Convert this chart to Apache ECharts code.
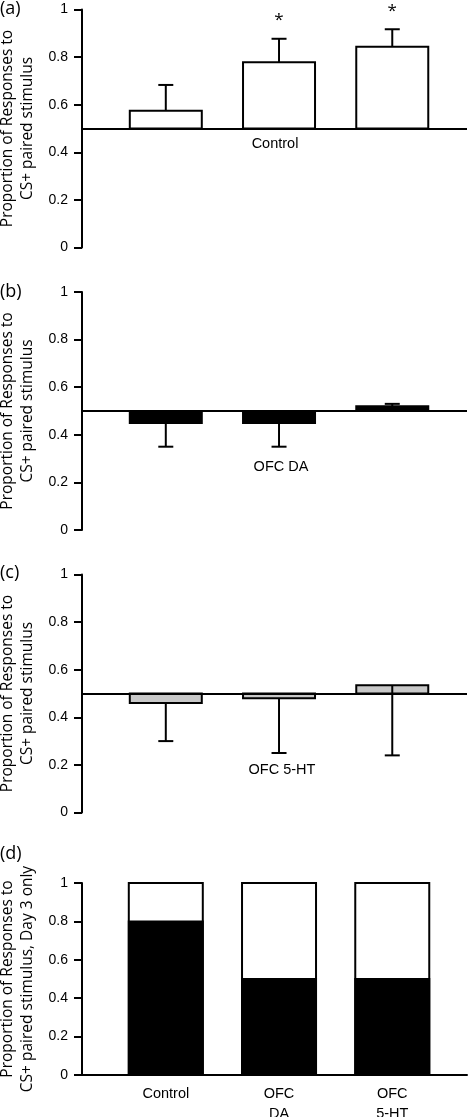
<!DOCTYPE html>
<html>
<head>
<meta charset="utf-8">
<script src="https://cdn.jsdelivr.net/npm/echarts@6/dist/echarts.min.js"></script>
<style>
html,body{margin:0;padding:0;background:#fff;}
#chart{width:470px;height:1117px;}
</style>
</head>
<body>
<div id="chart"></div>
<script>
// ---- data ----
const positions = [1, 2, 3];
const panelLabels = ['(a)', '(b)', '(c)', '(d)'];
const groupLabels = ['Control', 'OFC DA', 'OFC 5-HT'];
const baseline = 0.5;

const controlMeans = [0.575, 0.778, 0.843];
const controlErrEnds = [0.683, 0.877, 0.917];
const controlSig = ['', '*', '*'];

const daMeans = [0.45, 0.45, 0.52];
const daErrEnds = [0.35, 0.35, 0.53];

const htMeans = [0.46, 0.48, 0.535];
const htErrEnds = [0.30, 0.25, 0.24];

const day3CSplus = [0.8, 0.5, 0.5];
const day3Other = [0.2, 0.5, 0.5];
const day3Categories = ['Control', 'OFC\nDA', 'OFC\n5-HT'];

const yMin = 0, yMax = 1, yInterval = 0.2;
const yName = 'Proportion of Responses to\nCS+ paired stimulus';
const yNameD = 'Proportion of Responses to\nCS+ paired stimulus, Day 3 only';

// ---- layout / style ----
const LEFT = 82, RIGHT = 3;
const gridBase = {left: LEFT, right: RIGHT, containLabel: false, outerBoundsMode: 'none'};
const grids = [
  Object.assign({top: 9.5, height: 238}, gridBase),
  Object.assign({top: 292, height: 238}, gridBase),
  Object.assign({top: 574.5, height: 238}, gridBase),
  Object.assign({top: 883, height: 192}, gridBase)
];
const X_MIN = 0.26, X_MAX = 3.66;
const BAR_W = 72;
const tickFont = 'Liberation Sans, Arial, sans-serif';
const nameFont = 'Open Sans, sans-serif';

function yAxisFor(i, name) {
  return {
    type: 'value', gridIndex: i, min: yMin, max: yMax, interval: yInterval,
    axisLine: {show: true, lineStyle: {color: '#000', width: 2}},
    axisTick: {show: true, inside: false, length: 8, lineStyle: {color: '#000', width: 2}},
    axisLabel: {color: '#000', fontSize: 14, fontFamily: tickFont, margin: 14},
    splitLine: {show: false},
    name: name, nameLocation: 'middle', nameGap: 43, nameRotate: 90,
    nameTextStyle: {color: '#000', fontSize: 15.5, lineHeight: 20, fontFamily: nameFont}
  };
}

function barSeries(i, means, fill) {
  return {
    type: 'custom', xAxisIndex: i, yAxisIndex: i, z: 2,
    data: positions.map((p, k) => [p, means[k]]),
    encode: {x: 0, y: 1},
    renderItem: function (params, api) {
      const x = api.value(0), v = api.value(1);
      const p0 = api.coord([x, baseline]);
      const p1 = api.coord([x, v]);
      return {
        type: 'rect',
        shape: {x: p0[0] - BAR_W / 2, y: Math.min(p0[1], p1[1]), width: BAR_W, height: Math.abs(p1[1] - p0[1])},
        style: {fill: fill, stroke: '#000', lineWidth: 2}
      };
    },
    markLine: {
      silent: true, symbol: 'none', label: {show: false},
      lineStyle: {color: '#000', width: 2, type: 'solid'},
      data: [{yAxis: baseline}]
    }
  };
}

function errSeries(i, means, ends, sig) {
  return {
    type: 'custom', xAxisIndex: i, yAxisIndex: i, z: 5,
    data: positions.map((p, k) => [p, means[k], ends[k], k]),
    encode: {x: 0, y: [1, 2]},
    renderItem: function (params, api) {
      const x = api.value(0), m = api.value(1), e = api.value(2), k = api.value(3);
      const pm = api.coord([x, m]);
      const pe = api.coord([x, e]);
      const children = [
        {type: 'line', shape: {x1: pm[0], y1: pm[1], x2: pe[0], y2: pe[1]}, style: {stroke: '#000', lineWidth: 2}},
        {type: 'line', shape: {x1: pe[0] - 7.5, y1: pe[1], x2: pe[0] + 7.5, y2: pe[1]}, style: {stroke: '#000', lineWidth: 2}}
      ];
      if (sig && sig[k]) {
        children.push({
          type: 'text',
          style: {text: sig[k], x: pe[0], y: pe[1] - 10, align: 'center', verticalAlign: 'bottom',
                  fill: '#000', fontSize: 17, fontFamily: nameFont}
        });
      }
      return {type: 'group', children: children};
    }
  };
}

const day3Series = {
  type: 'custom', xAxisIndex: 3, yAxisIndex: 3, z: 2,
  data: positions.map((p, k) => [p, day3CSplus[k], day3Other[k]]),
  encode: {x: 0, y: [1, 2]},
  renderItem: function (params, api) {
    const x = api.value(0), lo = api.value(1), up = api.value(2);
    const p0 = api.coord([x, 0]);
    const p1 = api.coord([x, lo]);
    const p2 = api.coord([x, lo + up]);
    const w = 74;
    return {
      type: 'group', children: [
        {type: 'rect', shape: {x: p0[0] - w / 2, y: p2[1], width: w, height: p0[1] - p2[1]},
         style: {fill: '#fff', stroke: '#000', lineWidth: 2}},
        {type: 'rect', shape: {x: p0[0] - w / 2, y: p1[1], width: w, height: p0[1] - p1[1]},
         style: {fill: '#000', stroke: '#000', lineWidth: 2}}
      ]
    };
  }
};

const titles = [
  {text: panelLabels[0], left: 0, top: 0},
  {text: panelLabels[1], left: 0, top: 283},
  {text: panelLabels[2], left: 0, top: 564},
  {text: panelLabels[3], left: 0, top: 845}
].map(t => Object.assign(t, {padding: 0, textStyle: {fontSize: 18, fontWeight: 'normal', color: '#000', fontFamily: nameFont}}));

const groupTitles = [
  {text: groupLabels[0], left: 275, top: 136},
  {text: groupLabels[1], left: 281, top: 459},
  {text: groupLabels[2], left: 282, top: 762}
].map(t => Object.assign(t, {padding: 0, textAlign: 'center',
  textStyle: {fontSize: 14.5, fontWeight: 'normal', color: '#000', fontFamily: tickFont}}));

const option = {
  backgroundColor: '#fff',
  animation: false,
  title: titles.concat(groupTitles),
  grid: grids,
  xAxis: [0, 1, 2].map(i => ({type: 'value', gridIndex: i, min: X_MIN, max: X_MAX, show: false})).concat([{
    type: 'value', gridIndex: 3, min: X_MIN, max: X_MAX,
    axisLine: {show: true, onZero: false, lineStyle: {color: '#000', width: 2}},
    axisTick: {show: false},
    splitLine: {show: false},
    axisLabel: {
      customValues: positions, margin: 9, color: '#000', fontSize: 14.5, lineHeight: 20, fontFamily: tickFont,
      formatter: function (v) { const k = positions.indexOf(v); return k >= 0 ? day3Categories[k] : ''; }
    }
  }]),
  yAxis: [yAxisFor(0, yName), yAxisFor(1, yName), yAxisFor(2, yName), yAxisFor(3, yNameD)],
  series: [
    barSeries(0, controlMeans, '#fff'),
    errSeries(0, controlMeans, controlErrEnds, controlSig),
    barSeries(1, daMeans, '#000'),
    errSeries(1, daMeans, daErrEnds, null),
    barSeries(2, htMeans, '#c8c8c8'),
    errSeries(2, htMeans, htErrEnds, null),
    day3Series
  ]
};

const chart = echarts.init(document.getElementById('chart'), null, {renderer: 'canvas'});
chart.setOption(option);
</script>
</body>
</html>
